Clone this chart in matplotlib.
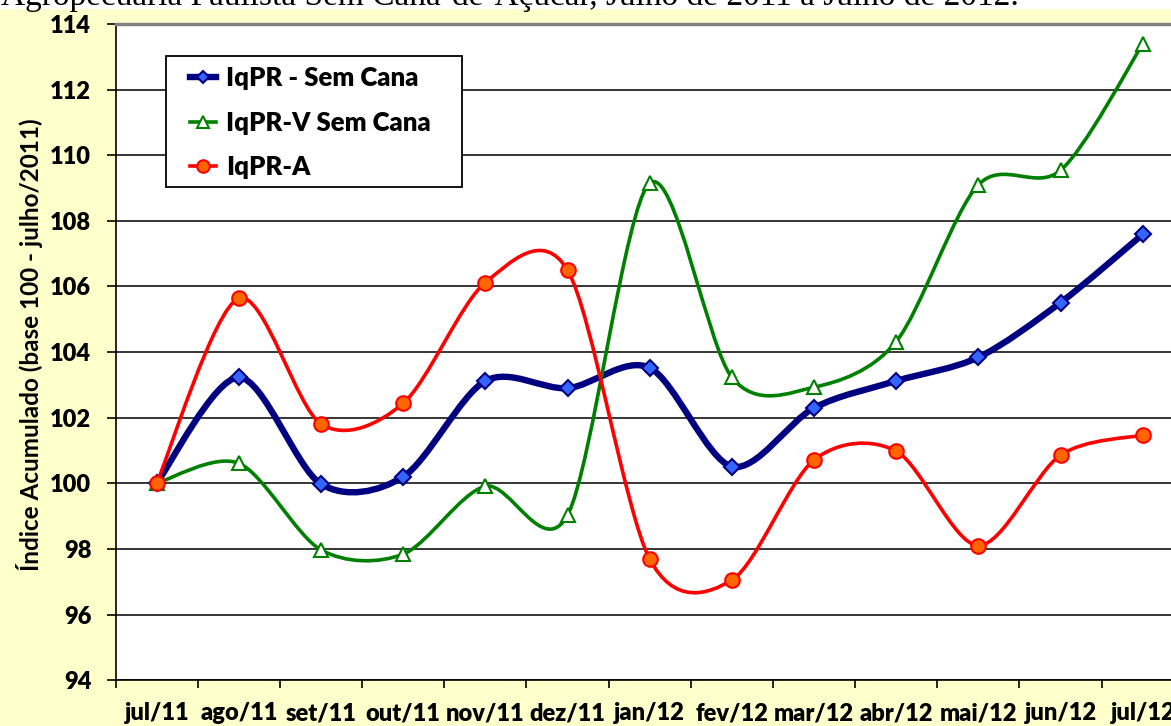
#!/usr/bin/env python3

import matplotlib
matplotlib.use("Agg")
from matplotlib import pyplot as plt
from matplotlib.lines import Line2D
from matplotlib.patches import PathPatch, Rectangle
from matplotlib.path import Path

out_filename = "out.png"

months = ["jul/11", "ago/11", "set/11", "out/11", "nov/11", "dez/11", "jan/12",
          "fev/12", "mar/12", "abr/12", "mai/12", "jun/12", "jul/12"]
iqpr_sem_cana = [100.0, 103.23, 99.98, 100.20, 103.12, 102.90, 103.52,
                 100.51, 102.30, 103.12, 103.84, 105.51, 107.59]
iqpr_v_sem_cana = [100.0, 100.61, 97.97, 97.84, 99.91, 99.03, 109.15,
                   103.23, 102.93, 104.32, 109.10, 109.54, 113.39]
iqpr_a = [100.0, 105.64, 101.81, 102.44, 106.12, 106.50, 97.69,
          97.05, 100.71, 100.98, 98.10, 100.86, 101.47]
y_ticks = [94, 96, 98, 100, 102, 104, 106, 108, 110, 112, 114]

W, H = 1171, 726
TENSION = 0.15


def smooth_path(xs, ys):
    # Excel-style smoothed line: cubic Bezier with Catmull-Rom-like control points
    pts = list(zip(xs, ys))
    verts = [pts[0]]
    codes = [Path.MOVETO]
    n = len(pts)
    for i in range(n - 1):
        p0 = pts[max(i - 1, 0)]
        p1 = pts[i]
        p2 = pts[i + 1]
        p3 = pts[min(i + 2, n - 1)]
        c1 = (p1[0] + (p2[0] - p0[0]) * TENSION, p1[1] + (p2[1] - p0[1]) * TENSION)
        c2 = (p2[0] - (p3[0] - p1[0]) * TENSION, p2[1] - (p3[1] - p1[1]) * TENSION)
        verts += [c1, c2, p2]
        codes += [Path.CURVE4] * 3
    return Path(verts, codes)


def main():
    plt.rcParams["font.family"] = ["Lato", "DejaVu Sans"]
    fig = plt.figure(figsize=(W / 100, H / 100), dpi=100, facecolor="#FFFFCC")

    # white strip with the cut-off caption above the chart
    fig.patches.append(Rectangle((0, 1 - 9 / H), 1, 9 / H, transform=fig.transFigure,
                                 facecolor="white", edgecolor="none", zorder=0))
    fig.text(1 / W, 1 - 5 / H,
             "Agropecuária Paulista Sem Cana-de-Açúcar, Julho de 2011 a Julho de 2012.",
             family="Liberation Serif", fontsize=24, va="baseline", ha="left")

    left, right = 115.6, 1183.8
    top, bottom = 24.1, 680.1
    ax = fig.add_axes([left / W, 1 - bottom / H, (right - left) / W, (bottom - top) / H])
    ax.set_facecolor("white")

    xs = list(range(len(months)))
    series = [
        (iqpr_sem_cana, "IqPR - Sem Cana", "#000080", 4.6, "D", "#3366FF", "#000080", 8.5, 6.5),
        (iqpr_v_sem_cana, "IqPR-V Sem Cana", "#008000", 2.6, "^", "white", "#008000", 10, 8),
        (iqpr_a, "IqPR-A", "#FF0000", 2.6, "o", "#FF6600", "#FF0000", 10.5, 9),
    ]
    handles = []
    for z, (vals, label, color, lw, marker, mfc, mec, ms, lms) in enumerate(series):
        patch = PathPatch(smooth_path(xs, vals), facecolor="none", edgecolor=color,
                          linewidth=lw, capstyle="round", joinstyle="round",
                          zorder=3 + z)
        ax.add_patch(patch)
        ax.plot(xs, vals, linestyle="none", marker=marker, markerfacecolor=mfc,
                markeredgecolor=mec, markersize=ms, markeredgewidth=1.5,
                zorder=3.5 + z, clip_on=False)
        handles.append(Line2D([], [], color=color, linewidth=lw, marker=marker,
                              markerfacecolor=mfc, markeredgecolor=mec,
                              markersize=lms, markeredgewidth=1.5, label=label))

    ax.set_xlim(-0.5, 12.5)
    ax.set_ylim(94, 114)
    ax.set_yticks(y_ticks)
    ax.set_xticks(xs)
    ax.set_xticklabels(months)
    ax.set_xticks([x - 0.5 for x in range(len(months) + 1)], minor=True)
    ax.tick_params(axis="x", which="major", length=0, pad=16, labelsize=17)
    ax.tick_params(axis="x", which="minor", length=6, width=1.2, direction="out")
    ax.tick_params(axis="y", length=6.5, width=1.2, direction="out", pad=11, labelsize=17)
    for lab in ax.get_xticklabels() + ax.get_yticklabels():
        lab.set_fontweight("heavy")

    ax.grid(axis="y", color="black", linewidth=1.1, zorder=1)
    ax.set_axisbelow(True)
    ax.spines["right"].set_visible(False)
    ax.spines["top"].set_color("#808080")
    ax.spines["top"].set_linewidth(2.5)
    ax.spines["left"].set_linewidth(1.2)
    ax.spines["bottom"].set_linewidth(1.2)

    fig.text(30 / W, 1 - 345 / H, "Índice Acumulado (base 100 - julho/2011)",
             rotation=90, ha="center", va="center", fontsize=17.5, fontweight="bold")

    # legend box
    fig.patches.append(Rectangle((165.7 / W, 1 - 187 / H), (462 - 165.7) / W,
                                 (187 - 56) / H, transform=fig.transFigure,
                                 facecolor="white", edgecolor="black", linewidth=1.3,
                                 zorder=5))
    leg = fig.legend(handles=handles, loc="upper left",
                     bbox_to_anchor=(190 / W, 1 - 66 / H), frameon=False,
                     borderpad=0, borderaxespad=0, handlelength=1.0,
                     handletextpad=0.4, labelspacing=0.8,
                     prop={"family": "Lato", "weight": "heavy", "size": 18.5})
    leg.set_zorder(6)

    fig.savefig(out_filename, dpi=100, facecolor=fig.get_facecolor())
    plt.close()


if __name__ == "__main__":
    main()
